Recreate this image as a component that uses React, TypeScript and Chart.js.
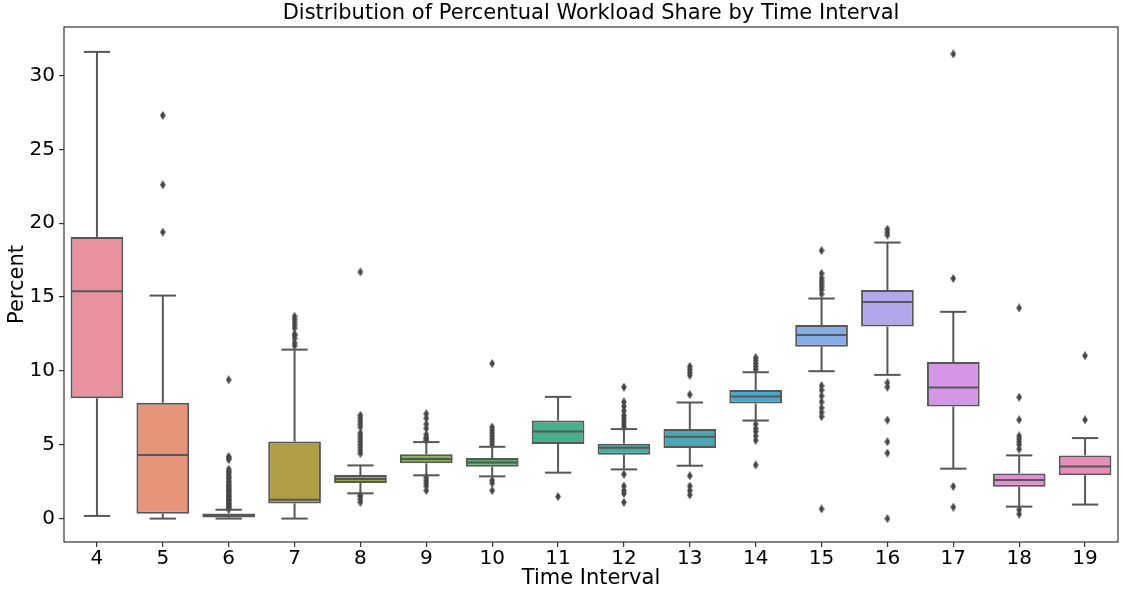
import { useEffect, useRef } from 'react';
import { Chart, registerables } from 'chart.js';

Chart.register(...registerables);

const TITLE = 'Distribution of Percentual Workload Share by Time Interval';
const X_TITLE = 'Time Interval';
const Y_TITLE = 'Percent';

const categories = ['4', '5', '6', '7', '8', '9', '10', '11', '12', '13', '14', '15', '16', '17', '18', '19'];
const q1 = [8.15, 0.32, 0.08, 1.03, 2.41, 3.74, 3.51, 5.05, 4.32, 4.78, 7.79, 11.64, 13.0, 7.59, 2.16, 2.93];
const median = [15.4, 4.3, 0.2, 1.28, 2.68, 4.03, 3.8, 5.9, 4.8, 5.54, 8.26, 12.43, 14.66, 8.87, 2.61, 3.53];
const q3 = [19.07, 7.84, 0.35, 5.22, 2.95, 4.35, 4.1, 6.64, 5.07, 6.06, 8.7, 13.1, 15.47, 10.6, 3.06, 4.28];
const whiskerLow = [0.18, 0.0, 0.0, 0.0, 1.71, 2.93, 2.86, 3.11, 3.33, 3.58, 6.64, 9.98, 9.73, 3.38, 0.81, 0.95];
const whiskerHigh = [31.6, 15.1, 0.6, 11.44, 3.6, 5.18, 4.86, 8.24, 6.06, 7.86, 9.91, 14.9, 18.69, 14.0, 4.28, 5.45];

const fliers: number[][] = [
  [],
  [27.3, 22.6, 19.4],
  [0.65, 0.72, 0.8, 0.9, 0.98, 1.05, 1.15, 1.24, 1.3, 1.42, 1.5, 1.6, 1.68, 1.8, 1.9, 2.0, 2.1, 2.22, 2.3, 2.45, 2.55, 2.7, 2.8, 2.95, 3.1, 3.2, 3.35, 4.0, 4.1, 4.2, 9.4],
  [11.7, 11.9, 12.2, 12.4, 12.5, 12.9, 13.1, 13.3, 13.5, 13.7],
  [4.4, 4.6, 4.8, 5.0, 5.2, 5.4, 5.6, 5.8, 6.2, 6.4, 6.6, 6.8, 7.0, 16.7, 1.6, 1.5, 1.3, 1.1],
  [5.3, 5.4, 5.5, 5.7, 6.1, 6.4, 6.8, 7.1, 2.8, 2.6, 2.4, 2.2, 1.9],
  [5.0, 5.2, 5.4, 5.6, 5.8, 6.0, 6.2, 10.5, 2.6, 2.4, 1.9],
  [1.49],
  [6.2, 6.4, 6.6, 6.8, 7.0, 7.3, 7.6, 7.9, 8.9, 3.0, 2.2, 1.9, 1.7, 1.1],
  [8.4, 9.7, 9.9, 10.1, 10.3, 2.9, 2.2, 1.9, 1.6],
  [10.1, 10.3, 10.5, 10.7, 10.9, 6.4, 6.1, 5.9, 5.6, 5.3, 3.63],
  [18.15, 15.2, 15.5, 15.7, 15.9, 16.1, 16.3, 16.6, 9.0, 8.7, 8.3, 7.9, 7.5, 7.2, 6.9, 0.65],
  [19.2, 19.4, 19.6, 9.2, 8.9, 6.67, 5.2, 4.44, 0.0],
  [31.46, 16.26, 2.18, 0.77],
  [14.26, 8.22, 6.69, 5.6, 5.4, 5.2, 5.0, 4.7, 0.6, 0.3],
  [11.03, 6.69],
];

const boxColors = [
  '#e8929e', '#e5967a', '#c49a5a', '#b09e46', '#9aa845', '#7dae47', '#52b06e', '#47ae8e',
  '#48aa9e', '#4aa8b3', '#4ca7cf', '#86aee6', '#b3a6ea', '#d596e6', '#e48dd6', '#e68db8',
];

const yTicks = [0, 5, 10, 15, 20, 25, 30];
const Y_MIN = -1.585;
const Y_MAX = 33.285;

const LINE = '#575757';
const FLIER = '#474747';
const AXIS = '#333333';
const FONT = '"DejaVu Sans", "Liberation Sans", sans-serif';

export default function App() {
  const ref = useRef<HTMLCanvasElement>(null);

  useEffect(() => {
    const canvas = ref.current;
    if (!canvas) return;

    const marker = document.createElement('canvas');
    marker.width = 6;
    marker.height = 9;
    const m = marker.getContext('2d')!;
    m.fillStyle = FLIER;
    m.beginPath();
    m.moveTo(3, 0);
    m.lineTo(5.8, 4.5);
    m.lineTo(3, 9);
    m.lineTo(0.2, 4.5);
    m.closePath();
    m.fill();

    const flierPoints: { x: string; y: number }[] = [];
    fliers.forEach((arr, i) => arr.forEach((v) => flierPoints.push({ x: categories[i], y: v })));

    const boxParts = {
      id: 'boxParts',
      afterDatasetsDraw(chart: any) {
        const { ctx, scales } = chart;
        const x = scales.x;
        const y = scales.y;
        const meta = chart.getDatasetMeta(0);
        ctx.save();
        ctx.strokeStyle = LINE;
        ctx.lineWidth = 2;
        const seg = (x1: number, y1: number, x2: number, y2: number) => {
          ctx.beginPath();
          ctx.moveTo(x1, y1);
          ctx.lineTo(x2, y2);
          ctx.stroke();
        };
        categories.forEach((_, i) => {
          const bar = meta.data[i];
          const cx = x.getPixelForValue(i);
          const w = bar.width;
          const cap = w / 4;
          const yq1 = y.getPixelForValue(q1[i]);
          const yq3 = y.getPixelForValue(q3[i]);
          const ylo = y.getPixelForValue(whiskerLow[i]);
          const yhi = y.getPixelForValue(whiskerHigh[i]);
          const ym = y.getPixelForValue(median[i]);
          seg(cx, yq3, cx, yhi);
          seg(cx, yq1, cx, ylo);
          seg(cx - cap, yhi, cx + cap, yhi);
          seg(cx - cap, ylo, cx + cap, ylo);
          seg(cx - w / 2 + 1, ym, cx + w / 2 - 1, ym);
        });
        ctx.restore();
      },
      afterDraw(chart: any) {
        const { ctx, chartArea } = chart;
        ctx.save();
        ctx.strokeStyle = AXIS;
        ctx.lineWidth = 1.2;
        ctx.strokeRect(chartArea.left, chartArea.top, chartArea.right - chartArea.left, chartArea.bottom - chartArea.top);
        ctx.fillStyle = '#000';
        ctx.font = '21px ' + FONT;
        ctx.textAlign = 'center';
        ctx.textBaseline = 'middle';
        ctx.fillText(TITLE, (chartArea.left + chartArea.right) / 2, 14);
        ctx.restore();
      },
    };

    const chart = new Chart(canvas, {
      type: 'bar',
      data: {
        labels: categories,
        datasets: [
          {
            type: 'bar',
            data: categories.map((_, i) => [q1[i], q3[i]]) as any,
            backgroundColor: boxColors,
            borderColor: LINE,
            borderWidth: 2,
            borderSkipped: false,
            barPercentage: 0.8,
            categoryPercentage: 1.0,
            order: 2,
          } as any,
          {
            type: 'scatter',
            data: flierPoints as any,
            pointStyle: marker as any,
            pointRadius: 4,
            showLine: false,
            order: 1,
          } as any,
        ],
      },
      options: {
        responsive: false,
        animation: false,
        devicePixelRatio: 1,
        layout: { padding: { top: 27, left: 0, right: 1, bottom: 0 } },
        plugins: {
          legend: { display: false },
          tooltip: { enabled: false },
          title: { display: false },
        },
        scales: {
          x: {
            type: 'category',
            offset: true,
            grid: { display: true, offset: false, drawOnChartArea: false, drawTicks: true, tickLength: 5, color: AXIS, lineWidth: 1.2 },
            border: { display: false },
            ticks: { color: '#000', font: { size: 20, family: FONT, lineHeight: 1 }, padding: 2, maxRotation: 0 },
            title: { display: true, text: X_TITLE, color: '#000', font: { size: 21, family: FONT, lineHeight: 1.2 }, padding: { top: 0, bottom: 1 } },
            afterFit: (axis: any) => { axis.height = 50; },
          },
          y: {
            type: 'linear',
            min: Y_MIN,
            max: Y_MAX,
            grid: { display: true, drawOnChartArea: false, drawTicks: true, tickLength: 5, color: AXIS, lineWidth: 1.2 },
            border: { display: false },
            ticks: { color: '#000', font: { size: 20, family: FONT }, padding: 4 },
            afterBuildTicks: (axis: any) => { axis.ticks = yTicks.map((v) => ({ value: v })); },
            title: { display: true, text: Y_TITLE, color: '#000', font: { size: 21, family: FONT, lineHeight: 1.2 }, padding: { top: 5, bottom: 0 } },
            afterFit: (axis: any) => { axis.width = 64; },
          },
        },
      },
      plugins: [boxParts],
    });

    return () => chart.destroy();
  }, []);

  return (
    <div style={{ position: 'fixed', left: 0, top: 0, width: 1123, height: 592, background: '#fff' }}>
      <canvas ref={ref} width={1123} height={592} style={{ display: 'block' }} />
    </div>
  );
}
